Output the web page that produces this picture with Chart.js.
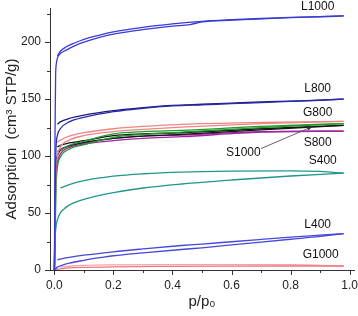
<!DOCTYPE html>
<html>
<head>
<meta charset="utf-8">
<script src="https://cdn.jsdelivr.net/npm/chart.js@4.4.1/dist/chart.umd.min.js"></script>
<style>
html, body { margin: 0; padding: 0; background: #fff; }
#wrap { width: 358px; height: 316px; }
</style>
</head>
<body>
<div id="wrap"><canvas id="isotherms"></canvas></div>
<script>
// Axis ticks
const X_TICKS = [0, 0.1, 0.2, 0.3, 0.4, 0.5, 0.6, 0.7, 0.8, 0.9, 1.0];
const X_TICK_LABELS = ['0.0', '', '0.2', '', '0.4', '', '0.6', '', '0.8', '', '1.0'];
const Y_TICKS = [0, 25, 50, 75, 100, 125, 150, 175, 200, 225];
const Y_TICK_LABELS = ['0', '', '50', '', '100', '', '150', '', '200', ''];

// L1000
const L1000_ADS_P = [0, 0.002, 0.004, 0.007, 0.01, 0.02, 0.04, 0.07, 0.1, 0.15, 0.2, 0.3, 0.4, 0.46, 0.5, 0.6, 0.7, 0.8, 0.9, 0.98];
const L1000_ADS_V = [0, 120, 170, 182, 186, 190, 193, 197, 200, 204, 207, 211, 214, 215.5, 217.8, 219.3, 220.5, 221.5, 222.3, 223];
const L1000_DES_P = [0.01, 0.02, 0.04, 0.07, 0.1, 0.15, 0.2, 0.3, 0.4, 0.5, 0.6, 0.7, 0.8, 0.9, 0.98];
const L1000_DES_V = [188, 192, 196, 199.5, 202.5, 206, 209, 213, 216, 218.3, 219.7, 220.8, 221.7, 222.5, 223];

// L800
const L800_ADS_P = [0, 0.002, 0.005, 0.01, 0.02, 0.05, 0.1, 0.2, 0.3, 0.4, 0.5, 0.6, 0.7, 0.8, 0.9, 0.98];
const L800_ADS_V = [0, 60, 105, 118, 124, 130, 134, 139, 142, 144, 145, 146, 147, 148, 149, 150];
const L800_DES_P = [0.01, 0.02, 0.05, 0.1, 0.2, 0.3, 0.4, 0.5, 0.6, 0.7, 0.8, 0.9, 0.98];
const L800_DES_V = [128, 130, 133, 136, 140, 142.5, 144.5, 145.5, 146.5, 147.5, 148.3, 149.2, 150];

// G800
const G800_ADS_P = [0, 0.002, 0.005, 0.01, 0.02, 0.05, 0.1, 0.2, 0.3, 0.43, 0.7, 0.98];
const G800_ADS_V = [0, 40, 85, 100, 108, 114, 118, 121.5, 123.5, 125.5, 128.5, 130.5];
const G800_DES_P = [0.01, 0.02, 0.05, 0.1, 0.2, 0.3, 0.43, 0.7, 0.98];
const G800_DES_V = [112, 114, 117.5, 120.5, 124, 126, 127.8, 129.5, 130.5];

// green isotherm (no label in the figure)
const GREEN_ADS_P = [0, 0.003, 0.006, 0.01, 0.02, 0.05, 0.1, 0.2, 0.3, 0.43, 0.7, 0.98];
const GREEN_ADS_V = [0, 40, 75, 90, 99, 106, 110, 116.5, 119, 121, 125, 128.5];
const GREEN_DES_P = [0.02, 0.05, 0.1, 0.2, 0.3, 0.43, 0.7, 0.98];
const GREEN_DES_V = [105, 109.5, 113, 119.5, 121.5, 122.5, 126, 128.5];

// S1000
const S1000_ADS_P = [0, 0.002, 0.005, 0.01, 0.02, 0.05, 0.1, 0.2, 0.3, 0.43, 0.7, 0.98];
const S1000_ADS_V = [0, 50, 90, 100, 105, 109, 112, 115.5, 117.5, 119, 123, 127];
const S1000_DES_P = [0.01, 0.02, 0.05, 0.1, 0.2, 0.3, 0.43, 0.7, 0.98];
const S1000_DES_V = [108, 109.5, 111.5, 113.5, 118, 119.5, 120.5, 124, 127];

// S800
const S800_ADS_P = [0, 0.002, 0.005, 0.01, 0.02, 0.05, 0.1, 0.2, 0.3, 0.43, 0.7, 0.98];
const S800_ADS_V = [0, 45, 85, 95, 102, 107.5, 110.5, 113.5, 115.5, 117, 121, 122];
const S800_DES_P = [0.01, 0.02, 0.05, 0.1, 0.2, 0.3, 0.43, 0.7, 0.98];
const S800_DES_V = [104, 106, 109, 111.5, 115.5, 117.5, 118.5, 121.5, 122];

// S400
const S400_ADS_P = [0, 0.002, 0.004, 0.01, 0.02, 0.03, 0.05, 0.1, 0.16, 0.2, 0.3, 0.43, 0.6, 0.8, 0.98];
const S400_ADS_V = [0, 25, 35, 44, 50, 53, 57, 62, 66, 68, 72, 75.5, 79, 82.5, 85];
const S400_DES_P = [0.02, 0.05, 0.1, 0.16, 0.2, 0.3, 0.43, 0.6, 0.8, 0.9, 0.98];
const S400_DES_V = [72, 75, 78.5, 81, 82.5, 84.5, 86, 86.8, 87, 86.5, 85];

// L400
const L400_ADS_P = [0, 0.01, 0.03, 0.05, 0.1, 0.16, 0.2, 0.3, 0.43, 0.5, 0.6, 0.7, 0.8, 0.9, 0.98];
const L400_ADS_V = [0, 2.5, 4.5, 6, 8.5, 11, 12.5, 15, 18, 19.5, 22, 24.5, 27, 29.5, 32];
const L400_DES_P = [0.01, 0.05, 0.1, 0.2, 0.3, 0.43, 0.5, 0.6, 0.7, 0.8, 0.9, 0.98];
const L400_DES_V = [9, 11, 13, 16, 18.5, 21.5, 22.8, 24.8, 26.8, 28.8, 30.6, 32];

// G1000
const G1000_ADS_P = [0, 0.02, 0.05, 0.1, 0.2, 0.4, 0.6, 0.8, 0.98];
const G1000_ADS_V = [0, 1, 1.8, 2.3, 2.8, 3.2, 3.4, 3.5, 3.5];
const G1000_DES_P = [0.02, 0.05, 0.1, 0.2, 0.4, 0.6, 0.8, 0.98];
const G1000_DES_V = [2.5, 3.3, 4, 4.5, 4.8, 4.8, 4.6, 3.5];

// Curve labels (placed in data coordinates)
const CURVE_LABELS = ['L1000', 'L800', 'G800', 'S800', 'S400', 'S1000', 'L400', 'G1000'];
const CURVE_LABEL_P = [0.892, 0.892, 0.892, 0.892, 0.909, 0.64, 0.892, 0.902];
const CURVE_LABEL_V = [231, 159.5, 138.3, 111.9, 96, 103, 39.6, 13.2];
// arrow from the S1000 label to its curve
const ARROW_P = [0.70, 0.875];
const ARROW_V = [106.6, 126];

const FONT_FAMILY = '"Liberation Sans", Arial, Helvetica, sans-serif';

function toPoints(pArr, vArr) {
    return pArr.map((p, i) => ({ x: p, y: vArr[i] }));
}

function line(label, pArr, vArr, color) {
    return {
        label: label,
        data: toPoints(pArr, vArr),
        borderColor: color,
        backgroundColor: color,
        borderWidth: 1.3,
        pointRadius: 0,
        fill: false,
        cubicInterpolationMode: 'monotone'
    };
}

const datasets = [
    line('L1000 ads', L1000_ADS_P, L1000_ADS_V, '#3b3bd6'),
    line('L1000 des', L1000_DES_P, L1000_DES_V, '#3b3bd6'),
    line('L800 ads', L800_ADS_P, L800_ADS_V, '#2a2aa8'),
    line('L800 des', L800_DES_P, L800_DES_V, '#1a1a80'),
    line('G800 ads', G800_ADS_P, G800_ADS_V, '#f08484'),
    line('G800 des', G800_DES_P, G800_DES_V, '#f08484'),
    line('green ads', GREEN_ADS_P, GREEN_ADS_V, '#1f9a2a'),
    line('green des', GREEN_DES_P, GREEN_DES_V, '#1f9a2a'),
    line('S1000 ads', S1000_ADS_P, S1000_ADS_V, '#151515'),
    line('S1000 des', S1000_DES_P, S1000_DES_V, '#151515'),
    line('S800 ads', S800_ADS_P, S800_ADS_V, '#a024a0'),
    line('S800 des', S800_DES_P, S800_DES_V, '#a024a0'),
    line('S400 ads', S400_ADS_P, S400_ADS_V, '#22968c'),
    line('S400 des', S400_DES_P, S400_DES_V, '#22968c'),
    line('L400 ads', L400_ADS_P, L400_ADS_V, '#4848d8'),
    line('L400 des', L400_DES_P, L400_DES_V, '#4848d8'),
    line('G1000 ads', G1000_ADS_P, G1000_ADS_V, '#ee7880'),
    line('G1000 des', G1000_DES_P, G1000_DES_V, '#f4a4a8')
];

// Outward tick marks, longer on labelled ticks
const tickMarks = {
    id: 'tickMarks',
    afterDraw(chart) {
        const ctx = chart.ctx;
        const xs = chart.scales.x;
        const ys = chart.scales.y;
        ctx.save();
        ctx.strokeStyle = '#333';
        ctx.lineWidth = 1;
        ctx.beginPath();
        X_TICKS.forEach((v, i) => {
            const px = Math.round(xs.getPixelForValue(v)) + 0.5;
            const len = X_TICK_LABELS[i] ? 5 : 3;
            ctx.moveTo(px, xs.top);
            ctx.lineTo(px, xs.top + len);
        });
        Y_TICKS.forEach((v, i) => {
            const py = Math.round(ys.getPixelForValue(v)) + 0.5;
            const len = Y_TICK_LABELS[i] ? 5 : 3;
            ctx.moveTo(ys.right, py);
            ctx.lineTo(ys.right - len, py);
        });
        ctx.stroke();
        ctx.restore();
    }
};

// Curve names and the S1000 arrow
const curveLabels = {
    id: 'curveLabels',
    afterDatasetsDraw(chart) {
        const ctx = chart.ctx;
        const xs = chart.scales.x;
        const ys = chart.scales.y;
        ctx.save();
        ctx.font = '12px ' + FONT_FAMILY;
        ctx.fillStyle = '#111';
        ctx.textAlign = 'center';
        ctx.textBaseline = 'middle';
        CURVE_LABELS.forEach((t, i) => {
            ctx.fillText(t, xs.getPixelForValue(CURVE_LABEL_P[i]), ys.getPixelForValue(CURVE_LABEL_V[i]));
        });

        const x1 = xs.getPixelForValue(ARROW_P[0]);
        const y1 = ys.getPixelForValue(ARROW_V[0]);
        const x2 = xs.getPixelForValue(ARROW_P[1]);
        const y2 = ys.getPixelForValue(ARROW_V[1]);
        const ang = Math.atan2(y2 - y1, x2 - x1);
        ctx.strokeStyle = '#555';
        ctx.lineWidth = 0.9;
        ctx.beginPath();
        ctx.moveTo(x1, y1);
        ctx.lineTo(x2, y2);
        ctx.stroke();
        ctx.fillStyle = '#333';
        ctx.beginPath();
        ctx.moveTo(x2, y2);
        ctx.lineTo(x2 - 6 * Math.cos(ang - 0.35), y2 - 6 * Math.sin(ang - 0.35));
        ctx.lineTo(x2 - 6 * Math.cos(ang + 0.35), y2 - 6 * Math.sin(ang + 0.35));
        ctx.closePath();
        ctx.fill();
        ctx.restore();
    }
};

const ctx = document.getElementById('isotherms').getContext('2d');
new Chart(ctx, {
    type: 'line',
    data: { datasets: datasets },
    options: {
        responsive: true,
        maintainAspectRatio: false,
        animation: false,
        layout: { padding: { top: 8, right: 4, left: 0, bottom: 0 } },
        plugins: {
            legend: { display: false },
            tooltip: { enabled: false }
        },
        scales: {
            x: {
                type: 'linear',
                min: -0.015,
                max: 1.015,
                afterBuildTicks: (s) => { s.ticks = X_TICKS.map(v => ({ value: v })); },
                afterFit: (s) => {
                    s.height = 46;
                    s.paddingLeft = 0;
                    s.paddingRight = 0;
                },
                grid: { display: false, drawTicks: false, tickLength: 0 },
                border: { display: true, color: '#333', width: 1 },
                ticks: {
                    autoSkip: false,
                    maxRotation: 0,
                    padding: 8,
                    color: '#222',
                    font: { family: FONT_FAMILY, size: 12 },
                    callback: (value, index) => X_TICK_LABELS[index]
                },
                title: {
                    display: true,
                    text: 'p/p₀',
                    color: '#222',
                    font: { family: FONT_FAMILY, size: 15 },
                    padding: { top: 0, bottom: 5 }
                }
            },
            y: {
                type: 'linear',
                min: 0,
                max: 230,
                afterBuildTicks: (s) => { s.ticks = Y_TICKS.map(v => ({ value: v })); },
                afterFit: (s) => {
                    s.width = 50;
                    s.paddingTop = 0;
                    s.paddingBottom = 0;
                },
                grid: { display: false, drawTicks: false, tickLength: 0 },
                border: { display: true, color: '#333', width: 1 },
                ticks: {
                    autoSkip: false,
                    padding: 9,
                    color: '#222',
                    font: { family: FONT_FAMILY, size: 12 },
                    callback: (value, index) => Y_TICK_LABELS[index]
                },
                title: {
                    display: true,
                    text: 'Adsorption  (cm³ STP/g)',
                    color: '#222',
                    font: { family: FONT_FAMILY, size: 15 },
                    padding: { top: 3, bottom: 0 }
                }
            }
        }
    },
    plugins: [tickMarks, curveLabels]
});
</script>
</body>
</html>
